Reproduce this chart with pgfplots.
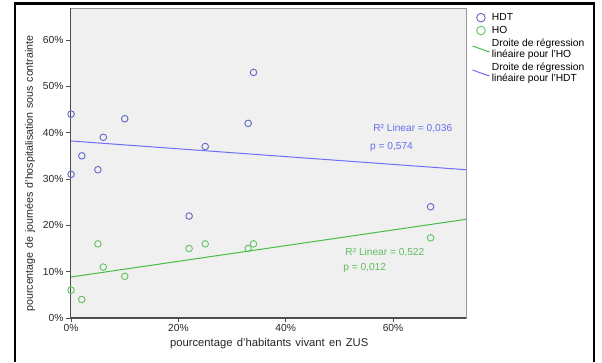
\documentclass[border=0pt]{standalone}
\usepackage{pgfplots}
\pgfplotsset{compat=1.18}
\usepackage{fontspec}
\setmainfont{Liberation Sans}
\definecolor{bmark}{RGB}{95,105,200}
\definecolor{gmark}{RGB}{95,195,95}
\definecolor{bline}{RGB}{110,110,250}
\definecolor{gline}{RGB}{70,190,70}
\definecolor{btext}{RGB}{100,110,235}
\definecolor{gtext}{RGB}{95,190,95}
\definecolor{plotbg}{RGB}{240,240,240}
\newcommand{\xlabfont}{\fontsize{11.3}{12}\selectfont\spaceskip=4.2bp plus 1bp\relax}
\newcommand{\ylabfont}{\fontsize{10.7}{12}\selectfont\spaceskip=3.8bp plus 1bp\relax}
\pgfplotsset{slantlegend/.style={legend image code/.code={\draw[##1] (0bp,3bp) -- (17bp,-3bp);}}}
\begin{document}
\begin{tikzpicture}[x=1bp,y=1bp]
\useasboundingbox (0,0) rectangle (602,362);
\draw[line width=2.8bp] (15,0) -- (15,358.3) -- (594,358.3) -- (594,0);
\begin{axis}[
  at={(70bp,44bp)}, anchor=south west,
  scale only axis, width=396bp, height=310bp,
  xmin=-0.2, xmax=73.6, ymin=0, ymax=66.9,
  axis background/.style={fill=plotbg},
  axis line style={draw=gray!80},
  xtick={0,20,40,60}, xticklabels={0\%,20\%,40\%,60\%},
  ytick={0,10,20,30,40,50,60}, yticklabels={0\%,10\%,20\%,30\%,40\%,50\%,60\%},
  xtick pos=left, ytick pos=left, tick align=outside,
  major tick length=4bp,
  tick style={draw=black!70, line width=0.8bp},
  ticklabel style={font=\fontsize{10.3}{11}\selectfont, text=black!85},
  xticklabel style={yshift=1bp},
  yticklabel style={xshift=1bp},
  xlabel={pourcentage d'habitants vivant en ZUS},
  ylabel={pourcentage de journées d'hospitalisation sous contrainte},
  xlabel style={font=\xlabfont, text=black!85, at={(axis description cs:0.503,-0.081)}, anchor=center},
  ylabel style={font=\ylabfont, text=black!85, at={(axis description cs:-0.101,0.466)}, anchor=center, rotate=0},
  legend style={at={(axis description cs:1.012,0.993)}, anchor=north west,
    draw=none, fill=none, font=\fontsize{10.3}{9.6}\selectfont,
    cells={anchor=west, align=left}, row sep=0.3bp, inner sep=1bp},
  legend cell align=left,
  clip=true,
]
\addplot[only marks, mark=o, mark size=3.3bp, draw=bmark, mark options={line width=0.9bp},
  legend image post style={mark size=4.3bp}]
  coordinates {(0,44) (0,31) (2,35) (5,32) (6,39) (10,43) (22,22) (25,37) (33,42) (34,53) (67,24)};
\addlegendentry{HDT}
\addplot[only marks, mark=o, mark size=3.3bp, draw=gmark, mark options={line width=0.9bp},
  legend image post style={mark size=4.3bp}]
  coordinates {(0,6) (2,4) (5,16) (6,11) (10,9) (22,15) (25,16) (33,15) (34,16) (67,17.3)};
\addlegendentry{HO}
\addplot[gline, line width=1bp, slantlegend]
  coordinates {(0,8.85) (73.6,21.3)};
\addlegendentry{Droite de régression\\linéaire pour l'HO}
\addplot[bline, line width=1bp, slantlegend]
  coordinates {(0,38.2) (73.6,32.0)};
\addlegendentry{Droite de régression\\linéaire pour l'HDT}
\draw[black!70, line width=1.3bp] (rel axis cs:0,1) -- (rel axis cs:0,0) -- (rel axis cs:1,0);
\node[anchor=west, text=btext, font=\fontsize{10.2}{10}\selectfont, inner sep=0] at (axis cs:56.3,40.8) {R² Linear = 0,036};
\node[anchor=west, text=btext, font=\fontsize{10.2}{10}\selectfont, inner sep=0] at (axis cs:55.7,36.9) {p = 0,574};
\node[anchor=west, text=gtext, font=\fontsize{10.2}{10}\selectfont, inner sep=0] at (axis cs:51.1,14.25) {R² Linear = 0,522};
\node[anchor=west, text=gtext, font=\fontsize{10.2}{10}\selectfont, inner sep=0] at (axis cs:50.7,10.8) {p = 0,012};
\end{axis}
\end{tikzpicture}
\end{document}
